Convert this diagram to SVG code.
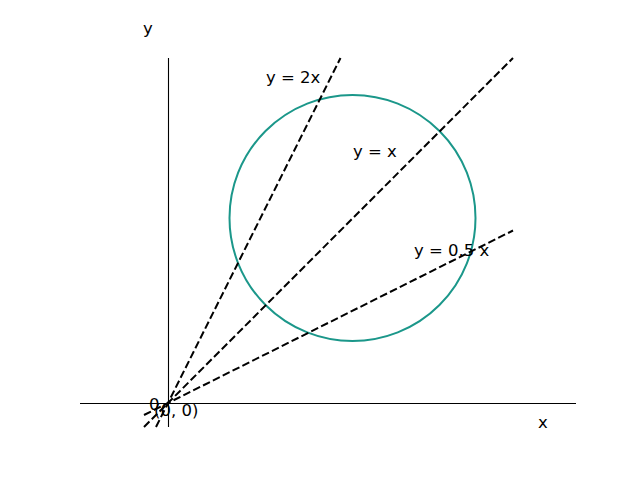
<svg xmlns="http://www.w3.org/2000/svg" width="640" height="480" viewBox="0 0 640 480">
<style>
text{font-family:"DejaVu Sans",sans-serif;font-size:16.5px;fill:#000}
.ax{stroke:#000;stroke-width:1.1;fill:none}
.dl{stroke:#000;stroke-width:2;stroke-dasharray:7.7 3.3;fill:none}
</style>
<rect width="640" height="480" fill="#fff"/>
<g id="axes">
<line class="ax" x1="80" y1="403.5" x2="576" y2="403.5"/>
<line class="ax" x1="168.5" y1="58" x2="168.5" y2="427"/>
<text x="538" y="428">x</text>
<text x="143" y="34">y</text>
<text x="149" y="410">0</text>
</g>
<g id="circle">
<circle cx="352.5" cy="218" r="123" fill="none" stroke="#1b978a" stroke-width="2"/>
</g>
<g id="connectors">
<line class="dl" x1="144" y1="427" x2="513" y2="58"/>
<line class="dl" x1="156" y1="427" x2="340.5" y2="58"/>
<line class="dl" x1="144" y1="415" x2="513" y2="230.5"/>
</g>
<g id="labels">
<text x="266" y="83">y = 2x</text>
<text x="353" y="157">y = x</text>
<text x="414" y="256">y = 0.5 x</text>
<text x="154" y="416">(0, 0)</text>
</g>
</svg>
